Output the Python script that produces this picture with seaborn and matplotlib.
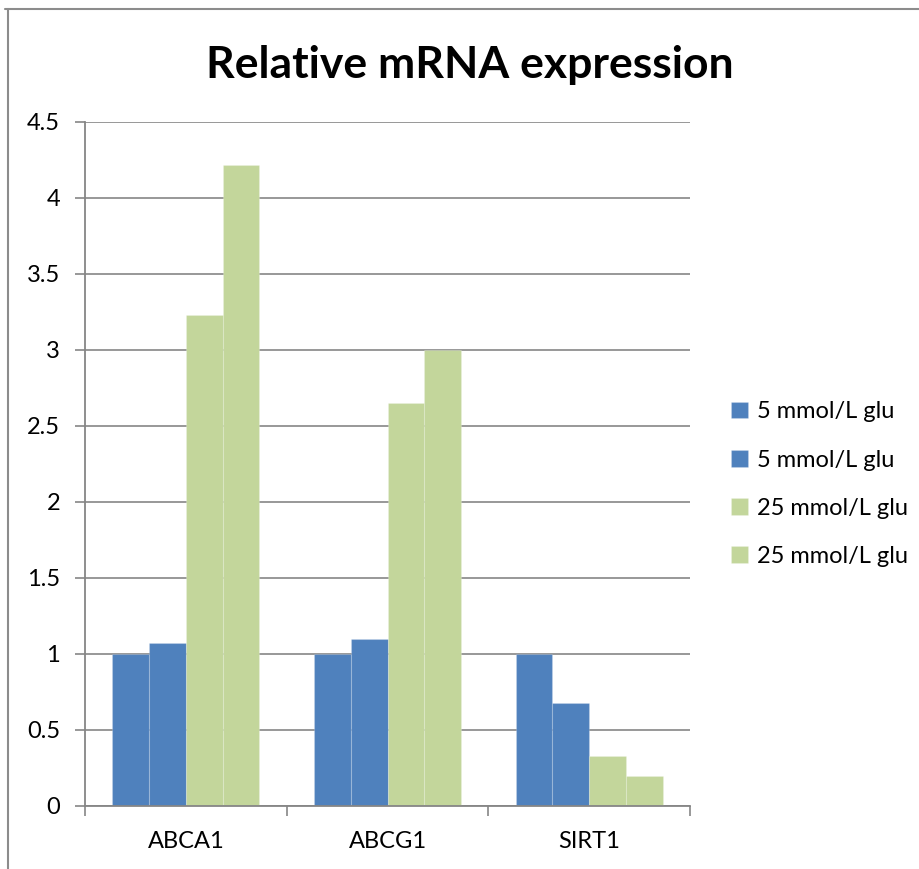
import matplotlib
matplotlib.use("Agg")
import matplotlib.pyplot as plt
from matplotlib.lines import Line2D
from matplotlib.ticker import FixedLocator, FormatStrFormatter
import seaborn as sns
import pandas as pd

# Data
genes = ["ABCA1", "ABCG1", "SIRT1"]
series_keys = ["s1", "s2", "s3", "s4"]
series_labels = ["5 mmol/L glu", "5 mmol/L glu", "25 mmol/L glu", "25 mmol/L glu"]
glu5_a = [1.00, 1.00, 1.00]
glu5_b = [1.07, 1.10, 0.68]
glu25_a = [3.23, 2.65, 0.33]
glu25_b = [4.22, 3.00, 0.20]
y_ticks = [0, 0.5, 1, 1.5, 2, 2.5, 3, 3.5, 4, 4.5]

rows = []
for key, vals in zip(series_keys, [glu5_a, glu5_b, glu25_a, glu25_b]):
    for g, v in zip(genes, vals):
        rows.append({"gene": g, "series": key, "value": v})
df = pd.DataFrame(rows)

sns.set_theme(style="white")
plt.rcParams["font.family"] = ["Lato", "DejaVu Sans"]
plt.rcParams["text.color"] = "black"

blue = "#4F81BD"
green = "#C3D69B"
grey = "#868686"

fig = plt.figure(figsize=(9.19, 8.69), dpi=100)
ax = fig.add_axes([85 / 919, 1 - 806 / 869, (690 - 85) / 919, (806 - 122) / 869])

sns.barplot(data=df, x="gene", y="value", hue="series", order=genes,
            hue_order=series_keys, palette=[blue, blue, green, green],
            width=0.73, gap=0, dodge=True, ax=ax, legend=True,
            edgecolor=(1, 1, 1, 0.18), linewidth=0.8, saturation=1)

ax.set_ylim(0, 4.5)
ax.set_xlim(-0.5, 2.5)
ax.yaxis.set_major_locator(FixedLocator(y_ticks))
ax.yaxis.set_major_formatter(FormatStrFormatter("%g"))
ax.set_xlabel("")
ax.set_ylabel("")
ax.grid(axis="y", color=grey, linewidth=1.2)
ax.set_axisbelow(True)

for side in ["top", "right"]:
    ax.spines[side].set_visible(False)
for side in ["left", "bottom"]:
    ax.spines[side].set_color(grey)
    ax.spines[side].set_linewidth(1.3)

ax.tick_params(axis="y", which="major", length=7, width=1.2, color=grey,
               labelsize=17, pad=11, labelcolor="black", left=True)
ax.tick_params(axis="x", which="major", length=0, labelsize=17, pad=18,
               labelcolor="black")
ax.set_xticks([-0.5, 0.5, 1.5, 2.5], minor=True)
ax.tick_params(axis="x", which="minor", length=7, width=1.2, color=grey,
               bottom=True)

title = fig.text(470 / 919, 1 - 78 / 869, "Relative mRNA expression",
                 fontsize=32, fontweight="bold", color="black",
                 ha="center", va="baseline")

handles, _ = ax.get_legend_handles_labels()
ax.legend(handles, series_labels, loc="upper left",
          bbox_to_anchor=(722 / 919, 1 - 392 / 869), bbox_transform=fig.transFigure,
          frameon=False, fontsize=17, handlelength=0.7, handleheight=0.7,
          handletextpad=0.4, labelspacing=1.15, borderaxespad=0,
          labelcolor="black")

# Outer chart border
fig.add_artist(Line2D([5 / 919, 1], [1 - 9 / 869, 1 - 9 / 869],
                      transform=fig.transFigure, color="#8C8C8C", linewidth=1.5))
fig.add_artist(Line2D([8 / 919, 8 / 919], [0, 1 - 9 / 869],
                      transform=fig.transFigure, color="#8C8C8C", linewidth=1.5))

fig.savefig("out.png", dpi=100)
